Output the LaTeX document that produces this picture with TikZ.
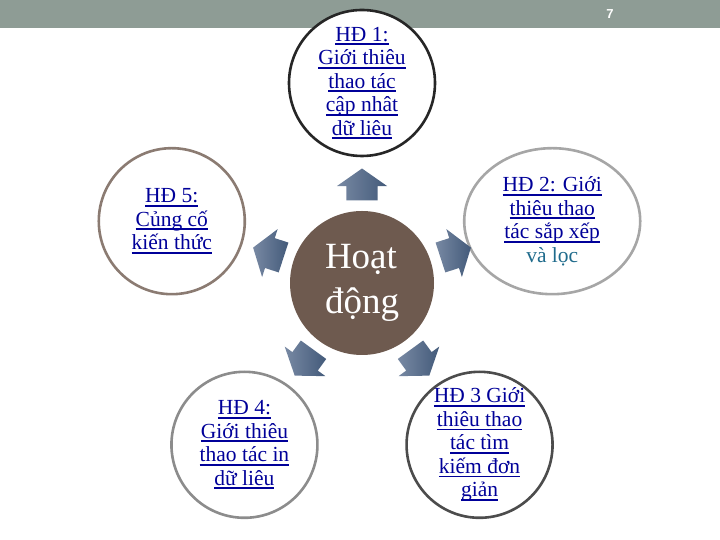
\documentclass[tikz,border=0pt]{standalone}
\usepackage{fontspec}
\setmainfont{Liberation Serif}
\setsansfont{Liberation Sans}
\usetikzlibrary{
  positioning,
  calc,
  shapes.geometric,
  shapes.arrows
}
\definecolor{barGray}{HTML}{8E9C95}
\definecolor{hubBrown}{HTML}{6E5A4F}
\definecolor{linkBlue}{HTML}{000099}
\definecolor{tealText}{HTML}{1F6B8C}
\definecolor{arrDark}{HTML}{435A7A}
\definecolor{arrLight}{HTML}{7889A3}
\tikzset{
  bar/.style={
    fill=barGray,
    minimum width=720pt,
    minimum height=28pt,
    inner sep=0pt,
  },
  pagenum/.style={
    font=\sffamily\bfseries\fontsize{13}{15}\selectfont,
    text=white,
  },
  hub/.style={
    circle,
    fill=hubBrown,
    minimum size=144pt,
    text=white,
    align=left,
    font=\fontsize{37}{45}\selectfont,
  },
  hd/.style={
    circle,
    draw,
    line width=2.6pt,
    fill=white,
    minimum size=146pt,
    inner sep=0pt,
    align=center,
    text=linkBlue,
    font=\fontsize{21.5}{23.5}\selectfont,
  },
  hdoval/.style={
    hd,
    ellipse,
    minimum width=176pt,
    minimum height=146pt,
  },
  arr/.style={
    single arrow,
    draw=none,
    left color=arrLight,
    right color=arrDark,
    inner xsep=0pt,
    inner ysep=15.5pt,
    minimum width=0pt,
    minimum height=32pt,
    single arrow head extend=9.5pt,
    single arrow tip angle=110,
  },
}
\newcommand{\hdu}[1]{\setbox0=\hbox{#1}\rlap{\rule[-4pt]{\wd0}{1.8pt}}\box0}

\begin{document}
\begin{tikzpicture}[x=1pt,y=1pt]
  \useasboundingbox (0,0) rectangle (720,540);

  % header
  \node[bar] (bar) at (360,526) {};
  \node[pagenum] (pg) at (610,526) {7};

  % hub and activities
  \node[hub] (hub) at (362,257) {Hoạt\\động};

  \node[hd, draw=black!85] (hd1) at ($(hub)+(90:200)$)
    {\hdu{HĐ 1:}\\ \hdu{Giới thiêu}\\ \hdu{thao tác}\\ \hdu{cập nhât}\\ \hdu{dữ liêu}};
  \node[hdoval, draw=black!35] (hd2) at ($(hub)+(18:200)$)
    {\hdu{HĐ 2: Giới}\\ \hdu{thiêu thao}\\ \hdu{tác sắp xếp}\\ \textcolor{tealText}{và lọc}};
  \node[hd, draw=black!70] (hd3) at ($(hub)+(-54:200)$)
    {\hdu{HĐ 3 Giới}\\ \hdu{thiêu thao}\\ \hdu{tác tìm}\\ \hdu{kiếm đơn}\\ \hdu{giản}};
  \node[hd, draw=black!45] (hd4) at ($(hub)+(-126:200)$)
    {\hdu{HĐ 4:}\\ \hdu{Giới thiêu}\\ \hdu{thao tác in}\\ \hdu{dữ liêu}};
  \node[hd, draw=hubBrown!80!white] (hd5) at ($(hub)+(162:200)$)
    {\hdu{HĐ 5:}\\ \hdu{Củng cố}\\ \hdu{kiến thức}};

  % arrows out of the hub
  \foreach \a/\n in {90/1, 18/2, -54/3, -126/4, 162/5}
    \node[arr, rotate=\a] (arr\n) at ($(hub)+(\a:93)$) {};

\end{tikzpicture}
\end{document}
